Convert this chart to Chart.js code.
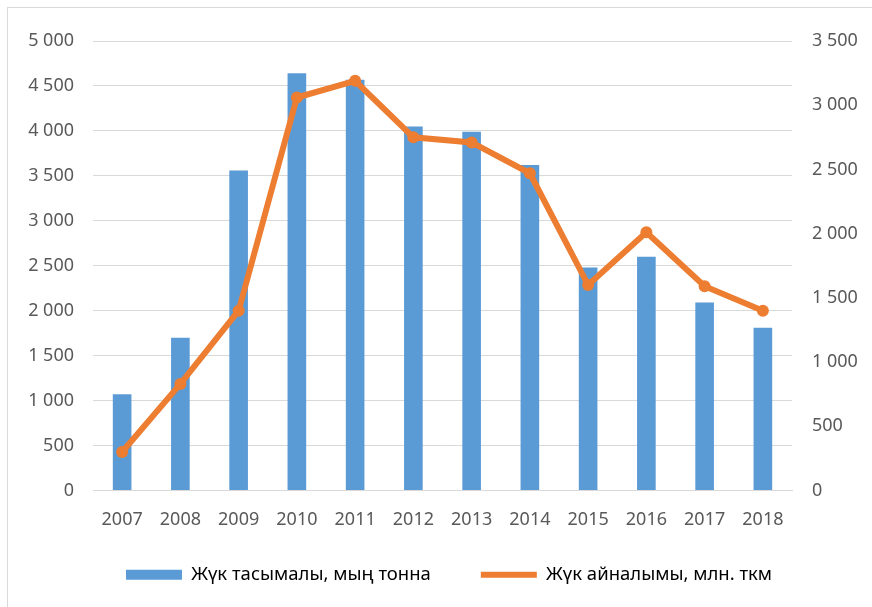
<!DOCTYPE html>
<html>
<head>
<meta charset="utf-8">
<script src="https://cdn.jsdelivr.net/npm/chart.js@4"></script>
<style>
  html, body { margin: 0; padding: 0; background: #fff; overflow: hidden; }
  #wrap { position: absolute; left: 0; top: 0; width: 872px; height: 607px; }
  #frame { position: absolute; left: 7px; top: 7px; width: 900px; height: 650px;
           border: 1px solid #d9d9d9; pointer-events: none; }
</style>
</head>
<body>
<div id="wrap"><canvas id="grafico" width="872" height="607"></canvas></div>
<div id="frame"></div>
<script>
const years = ['2007', '2008', '2009', '2010', '2011', '2012', '2013', '2014', '2015', '2016', '2017', '2018'];
const tasymaly = [1070, 1700, 3560, 4640, 4570, 4050, 3990, 3620, 2480, 2600, 2090, 1810]; // мың тонна
const ainalymy = [300, 830, 1400, 3060, 3190, 2750, 2710, 2470, 1600, 2010, 1590, 1400]; // млн. ткм
const seriesNames = ['Жүк тасымалы, мың тонна', 'Жүк айналымы, млн. ткм'];

const blue = '#5b9bd5';
const orange = '#ed7d31';
const grey = '#595959';

// "5 000" style
const fmt = (v) => String(v).replace(/\B(?=(\d{3})+(?!\d))/g, ' ');

Chart.defaults.font.family = '"Noto Sans", sans-serif';
Chart.defaults.color = grey;

new Chart(document.getElementById('grafico').getContext('2d'), {
  data: {
    labels: years,
    datasets: [
      {
        type: 'bar',
        label: seriesNames[0],
        data: tasymaly,
        backgroundColor: blue,
        yAxisID: 'y',
        order: 1,
        categoryPercentage: 1,
        barPercentage: 0.32,
      },
      {
        type: 'line',
        label: seriesNames[1],
        data: ainalymy,
        borderColor: orange,
        backgroundColor: orange,
        borderWidth: 6,
        pointRadius: 6,
        pointBorderWidth: 0,
        pointBackgroundColor: orange,
        tension: 0,
        yAxisID: 'y1',
        order: 0,
      },
    ],
  },
  options: {
    responsive: false,
    animation: false,
    layout: { padding: { left: 26, right: 0, top: 41, bottom: 13 } },
    plugins: {
      tooltip: { enabled: false },
      legend: {
        position: 'bottom',
        labels: {
          usePointStyle: true,
          pointStyleWidth: 56,
          boxHeight: 10,
          padding: 13,
          font: { size: 18.5 },
          color: grey,
          // extra gap after the first item, as in the Excel legend
          generateLabels: () => [
            { text: seriesNames[0] + '\u2003\u2003', fillStyle: blue, strokeStyle: blue, lineWidth: 0, pointStyle: 'rect', datasetIndex: 0 },
            { text: seriesNames[1], fillStyle: orange, strokeStyle: orange, lineWidth: 6, pointStyle: 'line', datasetIndex: 1 },
          ],
        },
      },
    },
    scales: {
      x: {
        afterFit: (s) => { s.height = 62; },
        grid: { display: false, drawTicks: false },
        border: { color: '#d9d9d9' },
        ticks: { padding: 19, font: { size: 18 }, color: grey },
      },
      y: {
        position: 'left',
        min: 0,
        max: 5000,
        afterFit: (s) => { s.width = 67; },
        border: { display: false },
        grid: { color: '#d9d9d9', drawTicks: false },
        ticks: { stepSize: 500, padding: 19, font: { size: 18 }, color: grey, callback: fmt },
      },
      y1: {
        position: 'right',
        min: 0,
        max: 3500,
        afterFit: (s) => { s.width = 80; },
        border: { display: false },
        grid: { display: false, drawTicks: false },
        ticks: { stepSize: 500, padding: 20, font: { size: 18 }, color: grey, callback: fmt },
      },
    },
  },
});
</script>
</body>
</html>
